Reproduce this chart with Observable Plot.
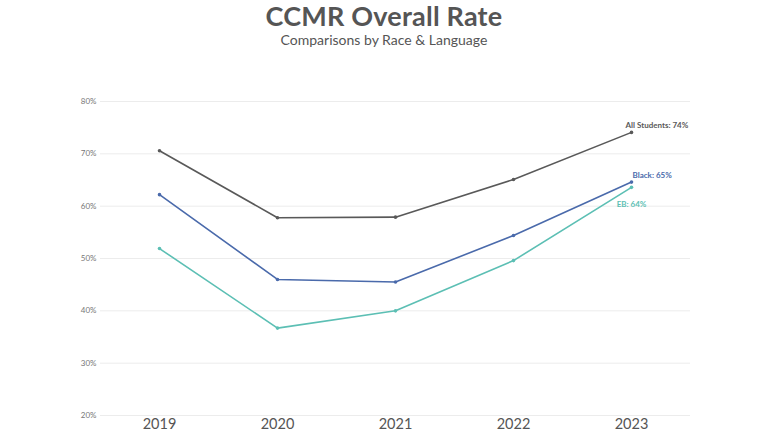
<!DOCTYPE html>
<html>
<head>
<meta charset="utf-8">
<script src="https://cdn.jsdelivr.net/npm/d3@7"></script>
<script src="https://cdn.jsdelivr.net/npm/@observablehq/plot@0.6"></script>
<style>
  html, body { margin: 0; padding: 0; background: #fff; }
  body { width: 768px; height: 432px; overflow: hidden; font-family: Lato, "Open Sans", sans-serif; }
  #header { height: 48px; position: relative; text-align: center; color: #555; }
  #title { position: absolute; left: 0; right: 0; top: 0px; font-size: 27px; font-weight: 700; line-height: 32px; letter-spacing: 0.2px; }
  #subtitle { position: absolute; left: 0; right: 0; top: 31px; font-size: 14px; font-weight: 400; line-height: 17px; }
</style>
</head>
<body>
<div id="header">
  <div id="title">CCMR Overall Rate</div>
  <div id="subtitle">Comparisons by Race &amp; Language</div>
</div>
<div id="chart"></div>
<script>
const years = ["2019", "2020", "2021", "2022", "2023"];
const seriesNames = ["All Students", "Black", "EB"];
const allStudents = [70.6, 57.8, 57.9, 65.1, 74.1];
const black = [62.2, 46.0, 45.5, 54.4, 64.6];
const eb = [51.9, 36.7, 40.0, 49.6, 63.6];
const endLabels = ["All Students: 74%", "Black: 65%", "EB: 64%"];
const yTicks = [20, 30, 40, 50, 60, 70, 80];
const colors = ["#595959", "#4a6aab", "#5cbfb4"];

const valuesBySeries = [allStudents, black, eb];
const rows = [];
seriesNames.forEach((s, i) => {
  years.forEach((y, j) => rows.push({series: s, year: y, value: valuesBySeries[i][j]}));
});
const last = seriesNames.map((s, i) => ({series: s, year: years[years.length - 1], value: valuesBySeries[i][years.length - 1], label: endLabels[i], color: colors[i]}));

const chart = Plot.plot({
  width: 768,
  height: 384,
  marginLeft: 100,
  marginRight: 78,
  marginTop: 53,
  marginBottom: 17,
  style: {fontFamily: "Lato, 'Open Sans', sans-serif", background: "#fff"},
  x: {type: "point", domain: years, padding: 0.5, label: null},
  y: {domain: [20, 80], label: null},
  color: {domain: seriesNames, range: colors},
  marks: [
    Plot.ruleY(yTicks, {stroke: "#ececec", strokeWidth: 1}),
    Plot.axisY({ticks: yTicks, tickSize: 0, tickPadding: 4, fontSize: 8, fill: "#777", tickFormat: d => d + "%", label: null}),
    Plot.axisX({tickSize: 0, tickPadding: 3, fontSize: 14.5, fill: "#555", label: null}),
    Plot.line(rows, {x: "year", y: "value", z: "series", stroke: "series", strokeWidth: 1.6}),
    Plot.dot(rows, {x: "year", y: "value", fill: "series", r: 1.8}),
    Plot.text(last.filter(d => d.series === "All Students"), {x: "year", y: "value", text: "label", fill: d => d.color, textAnchor: "start", dx: -6, dy: -7, fontSize: 8, fontWeight: 700}),
    Plot.text(last.filter(d => d.series === "Black"), {x: "year", y: "value", text: "label", fill: d => d.color, textAnchor: "start", dx: 1, dy: -7, fontSize: 8, fontWeight: 700}),
    Plot.text(last.filter(d => d.series === "EB"), {x: "year", y: "value", text: "label", fill: d => d.color, textAnchor: "middle", dx: 0, dy: 17, fontSize: 8, fontWeight: 700})
  ]
});
document.getElementById("chart").appendChild(chart);
</script>
</body>
</html>
